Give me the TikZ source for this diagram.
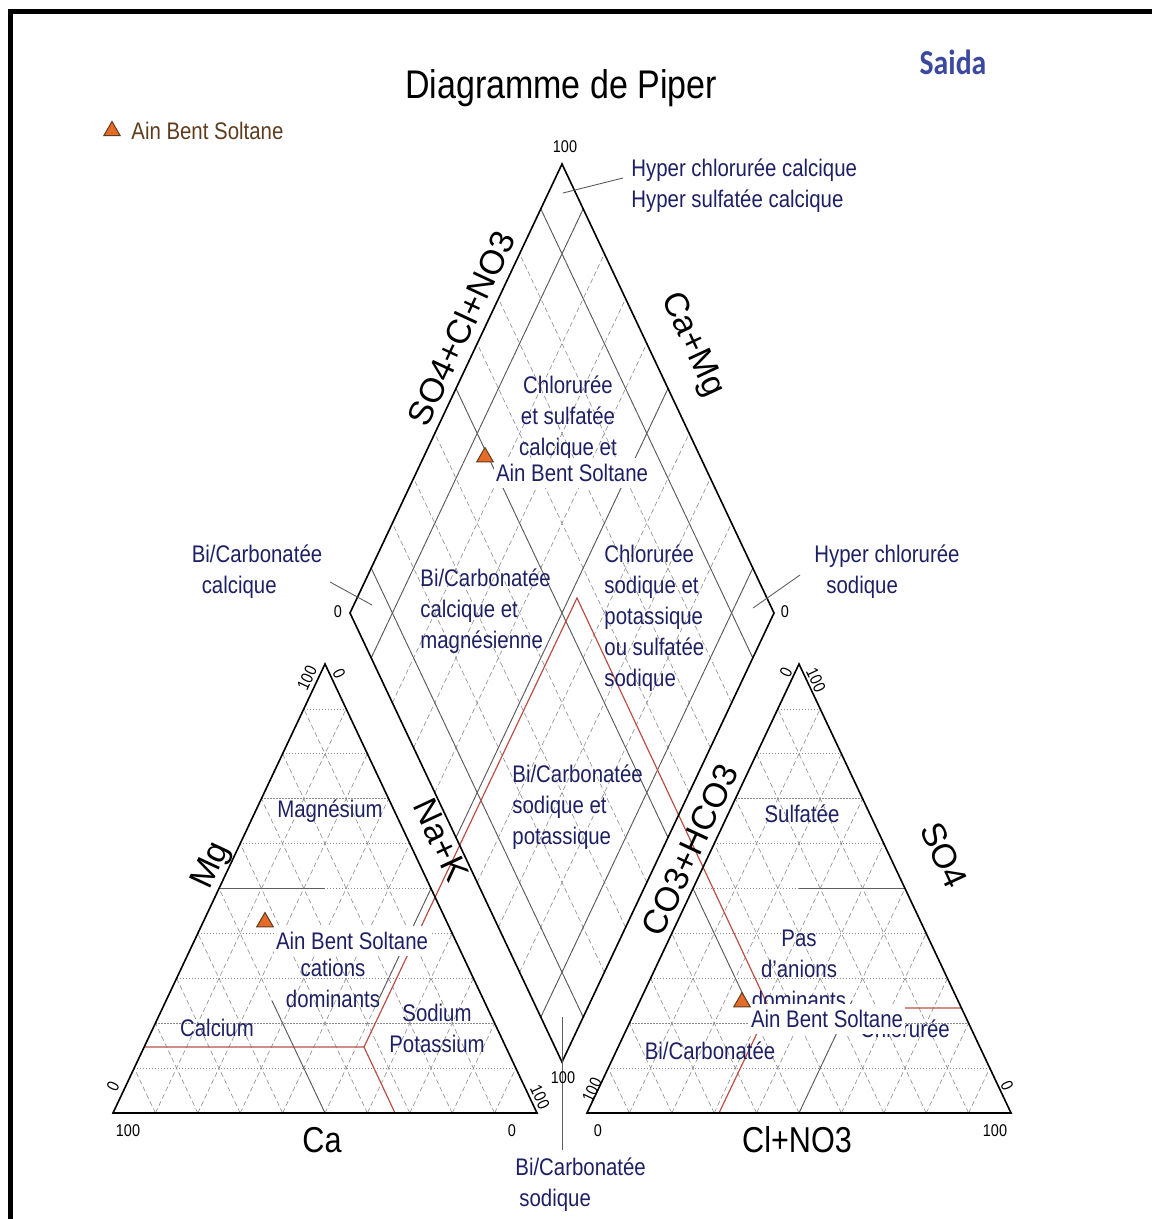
\documentclass[tikz,border=0pt]{standalone}
\usepackage{fontspec}
\setmainfont[FakeStretch=0.85]{Liberation Sans}
\newfontfamily\rotfont{Liberation Sans}
\newfontfamily\saidafont[FakeStretch=0.85]{Carlito}
\usetikzlibrary{calc,shapes.geometric}

\definecolor{navy}{RGB}{30,32,100}
\definecolor{redline}{RGB}{185,80,70}
\definecolor{gridgrey}{RGB}{140,140,140}
\definecolor{zonegrey}{RGB}{95,95,95}
\definecolor{sampleorange}{RGB}{228,108,40}
\definecolor{legendbrown}{RGB}{95,60,30}
\definecolor{saidablue}{RGB}{60,72,160}

\begin{document}
\begin{tikzpicture}[x=0.5pt,y=-0.5pt,
    edgeline/.style={line width=0.8pt},
    griddash/.style={gridgrey,line width=0.3pt,dash pattern=on 2.5pt off 1.5pt},
    griddot/.style={gridgrey,line width=0.4pt,dash pattern=on 0.6pt off 0.9pt},
    zone/.style={zonegrey,line width=0.45pt},
    redzone/.style={redline,line width=0.6pt},
    region/.style={text=navy,font=\fontsize{12}{15.5}\selectfont,inner sep=0pt},
    tick/.style={font=\fontsize{8.5}{10}\selectfont,inner sep=0pt},
    axis/.style={font=\fontsize{18}{21}\selectfont,inner sep=0pt},
    rotaxis/.style={font=\rotfont\fontsize{17}{20}\selectfont,inner sep=0pt},
    sample/.style={regular polygon,regular polygon sides=3,draw=legendbrown,fill=sampleorange,
      line width=0.5pt,minimum size=9.5pt,inner sep=0pt},
    samplelabel/.style={region,fill=white,inner xsep=1pt,inner ysep=3pt}]
  \useasboundingbox (0,0) rectangle (1152,1219);
  \draw[line width=2.5pt] (10,1219) -- (10,12) -- (1152,12);

  % corners of the three plots
  \coordinate (ca) at (113,1113);
  \coordinate (cb) at (537,1113);
  \coordinate (cc) at (325,664);
  \coordinate (aa) at (587,1113);
  \coordinate (ab) at (1011,1113);
  \coordinate (ac) at (799,664);
  \coordinate (db) at (562,1062);
  \coordinate (dl) at (350,613);
  \coordinate (dt) at (562,164);
  \coordinate (dr) at (774,613);

  \foreach \k in {1,...,9} {
    \draw[griddash] ($(ca)!\k/10!(cb)$) -- ($(cc)!\k/10!(cb)$);
    \draw[griddash] ($(ca)!\k/10!(cb)$) -- ($(ca)!\k/10!(cc)$);
    \draw[griddot] ($(ca)!\k/10!(cc)$) -- ($(cb)!\k/10!(cc)$);
    \draw[griddash] ($(aa)!\k/10!(ab)$) -- ($(ac)!\k/10!(ab)$);
    \draw[griddash] ($(aa)!\k/10!(ab)$) -- ($(aa)!\k/10!(ac)$);
    \draw[griddot] ($(aa)!\k/10!(ac)$) -- ($(ab)!\k/10!(ac)$);
    \draw[griddash] ($(db)!\k/10!(dr)$) -- ($(dl)!\k/10!(dt)$);
    \draw[griddash] ($(db)!\k/10!(dl)$) -- ($(dr)!\k/10!(dt)$);
  }
  \foreach \k in {1,5,9} {
    \draw[zone] ($(db)!\k/10!(dr)$) -- ($(dl)!\k/10!(dt)$);
    \draw[zone] ($(db)!\k/10!(dl)$) -- ($(dr)!\k/10!(dt)$);
  }

  \draw[zone] (219,888.5) -- (325,888.5);
  \draw[zone] (325,1113) -- (272,1000.75);
  \draw[zone] (431,888.5) -- (378,1000.75);
  \draw[zone] (905,888.5) -- (799,888.5);
  \draw[zone] (693,888.5) -- (746,1000.75);
  \draw[zone] (799,1113) -- (852,1000.75);

  \coordinate (rc) at (364,1047);
  \coordinate (rd) at (577,598);
  \coordinate (ra) at (769,1008);
  \draw[redzone] (144,1047) -- (rc) -- (rd) -- (ra) -- (961,1008);
  \draw[redzone] (rc) -- (395,1113);
  \draw[redzone] (ra) -- (719,1113);

  \draw[edgeline] (ca) -- (cb) -- (cc) -- cycle;
  \draw[edgeline] (aa) -- (ab) -- (ac) -- cycle;
  \draw[edgeline] (db) -- (dl) -- (dt) -- (dr) -- cycle;

  \draw[zone] (563,193) -- (623,178);
  \draw[zone] (330,582) -- (372,605);
  \draw[zone] (753,608) -- (800,575);
  \draw[zone] (562,1017) -- (562,1150);

  \node[font=\fontsize{20}{24}\selectfont] (title) at (561,88) {Diagramme de Piper};
  \node[font=\saidafont\bfseries\fontsize{17.5}{20}\selectfont,text=saidablue] (saida) at (953,62) {Saida};
  \node[sample] (m0) at (112,131) {};
  \node[region,text=legendbrown,anchor=west] (m0l) at (131,131) {Ain Bent Soltane};

  \begin{scope}[every node/.style={tick}]
    \node[rotate=65] (tc1) at (307,678) {100};
    \node[rotate=-65] (tc2) at (339,674) {0};
    \node[rotate=65] (tc3) at (113,1086) {0};
    \node[rotate=-65] (tc4) at (540,1097) {100};
    \node (tc5) at (128,1131) {100};
    \node (tc6) at (512,1131) {0};
    \node[rotate=65] (ta1) at (786,672) {0};
    \node[rotate=-65] (ta2) at (816,680) {100};
    \node[rotate=65] (ta3) at (592,1090) {100};
    \node[rotate=-65] (ta4) at (1007,1086) {0};
    \node (ta5) at (598,1131) {0};
    \node (ta6) at (995,1131) {100};
    \node (td1) at (565,147) {100};
    \node (td2) at (338,612) {0};
    \node (td3) at (785,612) {0};
    \node (td4) at (563,1078) {100};
  \end{scope}

  \begin{scope}[every node/.style={rotaxis}]
    \node[rotate=65] (mg) at (212,866) {Mg};
    \node[rotate=-65] (nak) at (441,840) {Na+K};
    \node[rotate=65] (anions) at (461,328) {SO4+Cl+NO3};
    \node[rotate=-65] (cations) at (692,345) {Ca+Mg};
    \node[rotate=65] (co3) at (690,850) {CO3+HCO3};
    \node[rotate=-65] (so4) at (944,855) {SO4};
  \end{scope}
  \node[axis] (ca-ax) at (322,1140) {Ca};
  \node[axis] (cl-ax) at (797,1140) {Cl+NO3};

  \begin{scope}[every node/.style={region}]
    \node[align=left,anchor=west] (hcc) at (631,186) {Hyper chlorurée calcique\\Hyper sulfatée calcique};
    \node[align=left] (bcc) at (257,572) {Bi/Carbonatée\\\hspace{5pt}calcique};
    \node[align=left] (hcs) at (887,572) {Hyper chlorurée\\\hspace{6pt}sodique};
    \node[align=left,anchor=west] (bcs) at (515,1185) {Bi/Carbonatée\\\hspace{2pt}sodique};
    \node[align=center] (dz1) at (568,418) {Chlorurée\\et sulfatée\\calcique et};
    \node[align=left,anchor=west] (dz2) at (420,611) {Bi/Carbonatée\\calcique et\\magnésienne};
    \node[align=left,anchor=west] (dz3) at (604,618) {Chlorurée\\sodique et\\potassique\\ou sulfatée\\sodique};
    \node[align=left,anchor=west] (dz4) at (512,807) {Bi/Carbonatée\\sodique et\\potassique};
    \node (cz1) at (330,811) {Magnésium};
    \node[align=center] (cz2) at (333,983) {cations\\dominants};
    \node (cz3) at (217,1028) {Calcium};
    \node[align=center] (cz4) at (437,1028) {Sodium\\Potassium};
    \node (az1) at (802,814) {Sulfatée};
    \node[align=center] (az2) at (799,969) {Pas\\d'anions\\dominants};
    \node (az3) at (710,1051) {Bi/Carbonatée};
    \node (az4) at (905,1029) {Chlorurée};
  \end{scope}

  \node[samplelabel] (l1) at (352,941) {Ain Bent Soltane};
  \node[samplelabel] (l2) at (572,473) {Ain Bent Soltane};
  \node[samplelabel] (l3) at (827,1019) {Ain Bent Soltane};
  \node[sample] (s1) at (265,922) {};
  \node[sample] (s2) at (485,457) {};
  \node[sample] (s3) at (742,1002) {};
\end{tikzpicture}
\end{document}
